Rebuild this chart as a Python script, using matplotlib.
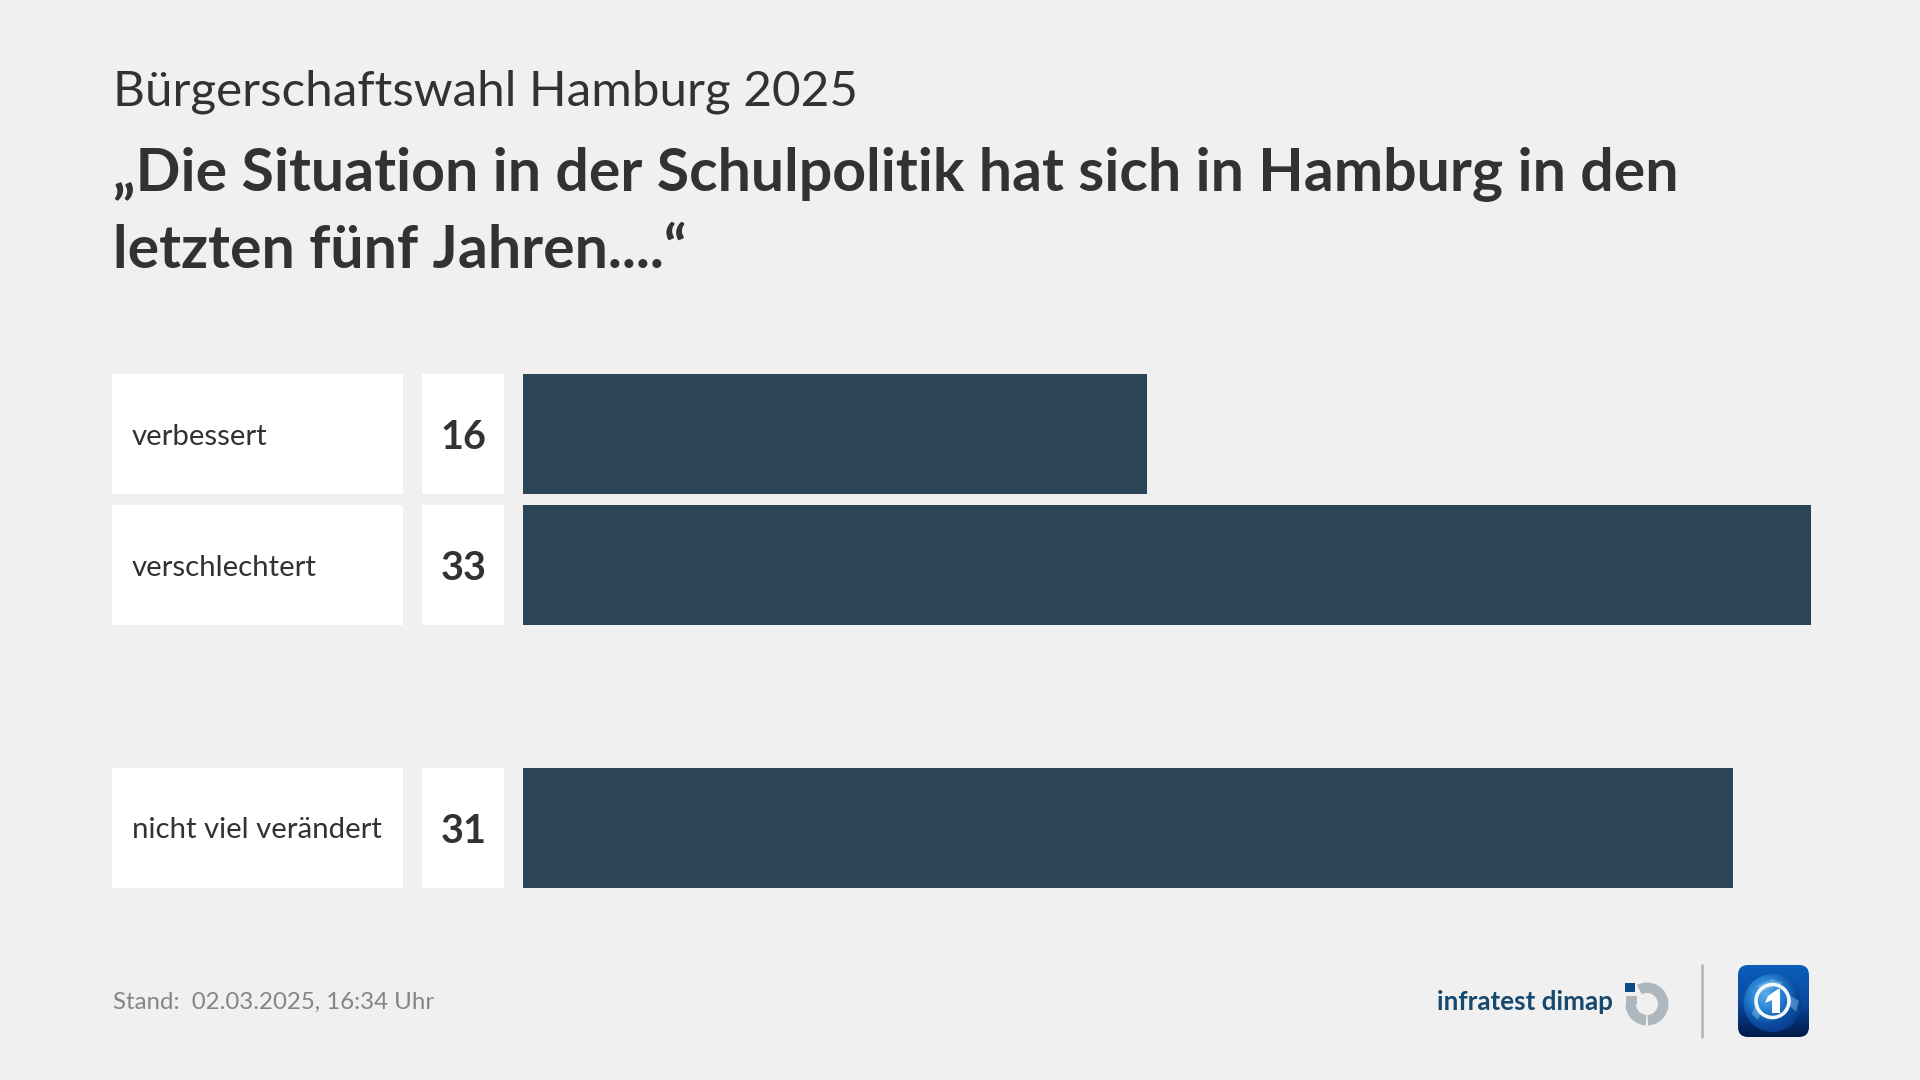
import numpy as np
import matplotlib
matplotlib.use("Agg")
import matplotlib.pyplot as plt
import matplotlib.transforms as mtransforms
from matplotlib.colors import LinearSegmentedColormap
from matplotlib.patches import Circle, FancyBboxPatch, Polygon, Rectangle, Wedge

SUBTITLE = "Bürgerschaftswahl Hamburg 2025"
TITLE_LINES = ["„Die Situation in der Schulpolitik hat sich in Hamburg in den",
               "letzten fünf Jahren....“"]
STAND = "Stand:  02.03.2025, 16:34 Uhr"
CATEGORIES = ["verbessert", "verschlechtert", "nicht viel verändert"]
VALUES = [16, 33, 31]

ROW_POS = [0, 1, 3]  # row 2 stays empty
BG = "#f0f0f0"
DARK = "#333230"
BAR = "#2b4456"
FONT = "Lato"

fig = plt.figure(figsize=(19.2, 10.8), dpi=100, facecolor=BG)

# overlay in reference pixels, for text and logos
page = fig.add_axes([0, 0, 1, 1], zorder=1)
page.set_xlim(0, 1920)
page.set_ylim(1080, 0)
page.axis("off")

# bars
ax = fig.add_axes([523 / 1920, 1 - 888 / 1080, (1811 - 523) / 1920, (888 - 374) / 1080], zorder=2)
ax.patch.set_alpha(0)
ax.barh(ROW_POS, VALUES, height=0.914, color=BAR)
ax.set_xlim(0, max(VALUES))
ax.set_ylim(3.457, -0.457)
ax.axis("off")

# label and value boxes follow the rows of the bar axes
rows = mtransforms.blended_transform_factory(page.transData, ax.transData)
for pos, cat, val in zip(ROW_POS, CATEGORIES, VALUES):
    ax.add_patch(Rectangle((112, pos - 0.457), 291, 0.914, color="white", lw=0, transform=rows, clip_on=False))
    ax.add_patch(Rectangle((422, pos - 0.457), 82, 0.914, color="white", lw=0, transform=rows, clip_on=False))
    ax.text(132, pos, cat, transform=rows, fontsize=21.2, family=FONT, color=DARK, va="center_baseline", ha="left")
    ax.text(463.5, pos, str(val), transform=rows, fontsize=28.5, family=FONT, weight="bold", color=DARK,
            va="center_baseline", ha="center")

# header
page.text(113, 106, SUBTITLE, fontsize=35.6, family=FONT, color=DARK)
page.text(113, 191, TITLE_LINES[0], fontsize=42.5, family=FONT, weight="bold", color=DARK)
page.text(113, 268, TITLE_LINES[1], fontsize=42.5, family=FONT, weight="bold", color=DARK)

# footer
page.text(113, 1009, STAND, fontsize=17.3, family=FONT, color="#858585")

# infratest dimap logo
page.text(1437, 1010, "infratest dimap", fontsize=18.7, family=FONT, weight="bold", color="#17486e")
page.add_patch(Rectangle((1625, 983), 10, 9, color="#0d4a85", lw=0))
ring = "#aeb7bd"
page.add_patch(Wedge((1647, 1004), 21.5, -118, 87, width=10.5, color=ring, lw=0))
page.add_patch(Wedge((1647, 1004), 21.5, 93, 180, width=10.5, color=ring, lw=0))
page.add_patch(Rectangle((1625.5, 996), 11, 8, color=ring, lw=0))

# divider
page.plot([1702, 1702], [965, 1037], color="#b8b8b8", lw=2, solid_capstyle="round")

# tagesschau icon
box = FancyBboxPatch((1746, 973), 55, 56, boxstyle="round,pad=8,rounding_size=10", fc="none", ec="none")
page.add_patch(box)
yy, xx = np.mgrid[0:1:100j, 0:1:100j]
back = page.imshow(np.clip(1.05 - yy, 0, 1), extent=(1738, 1809, 1037, 965), aspect="auto", zorder=1,
                   cmap=LinearSegmentedColormap.from_list("bg", ["#021a48", "#0a4aa0", "#0b5cb8"]))
back.set_clip_path(box)
globe = page.imshow(np.hypot(xx - 0.38, yy - 0.35), extent=(1743, 1803, 1033, 973), aspect="auto", zorder=2,
                    vmin=0, vmax=0.75,
                    cmap=LinearSegmentedColormap.from_list("gl", ["#58ade6", "#2a86d6", "#0b4da3", "#06357f"]))
globe.set_clip_path(Circle((1772.5, 1003), 29, transform=page.transData))
# rough land shapes on the globe
for shape in [[(1757, 986), (1772, 979), (1783, 983), (1772, 988), (1762, 992)],
              [(1789, 995), (1799, 1001), (1796, 1012), (1790, 1006)],
              [(1755, 1006), (1761, 1012), (1758, 1020), (1752, 1014)]]:
    page.add_patch(Polygon(shape, color="#8cc7ee", alpha=0.45, lw=0, zorder=3))
page.add_patch(Circle((1772.5, 1001), 16.5, fc="none", ec="#f2f7fb", lw=2.6, zorder=3))
page.add_patch(Polygon([(1768, 996), (1778, 989), (1780, 989), (1780, 1013), (1772, 1013), (1772, 1000), (1765, 1003)],
                       color="white", lw=0, zorder=4))
page.set_xlim(0, 1920)
page.set_ylim(1080, 0)

fig.savefig("out.png", dpi=100, facecolor=BG)
